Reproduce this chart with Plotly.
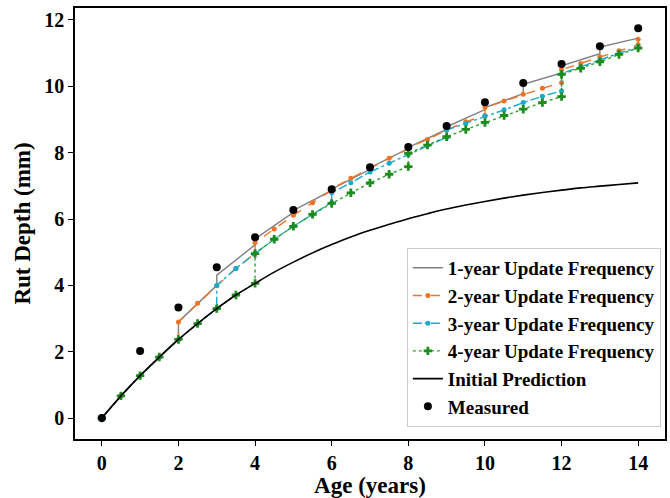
import plotly.graph_objects as go

# ---------------- data ----------------
initial_age = [0, 0.5, 1, 1.5, 2, 2.5, 3, 3.5, 4, 4.5, 5, 5.5, 6, 6.5, 7, 7.5,
               8, 8.5, 9, 9.5, 10, 10.5, 11, 11.5, 12, 12.5, 13, 13.5, 14]
initial_rut = [0, 0.67, 1.28, 1.84, 2.37, 2.85, 3.30, 3.71, 4.06, 4.40, 4.70, 4.98,
               5.23, 5.46, 5.66, 5.84, 6.01, 6.16, 6.30, 6.42, 6.53, 6.63, 6.72,
               6.80, 6.87, 6.94, 6.99, 7.04, 7.09]

measured_age = [0, 1, 2, 3, 4, 5, 6, 7, 8, 9, 10, 11, 12, 13, 14]
measured_rut = [0, 2.02, 3.33, 4.55, 5.45, 6.27, 6.90, 7.56, 8.17, 8.80, 9.52,
                10.10, 10.67, 11.21, 11.75]

upd1_age = [0, 0.5, 1, 1.5, 2, 2, 3, 3, 4, 4, 5, 5, 6, 6, 7, 7, 8, 8, 9, 9,
            10, 10, 11, 11, 12, 12, 13, 13, 14]
upd1_rut = [0, 0.67, 1.28, 1.84, 2.37, 2.90, 4.00, 4.31, 5.22, 5.40, 6.20, 6.26,
            6.86, 6.90, 7.50, 7.55, 8.12, 8.16, 8.70, 8.78, 9.30, 9.36, 9.78,
            10.06, 10.40, 10.62, 10.98, 11.18, 11.45]

upd2_age = [0, 0.5, 1, 1.5, 2, 2, 2.5, 3, 3.5, 4, 4, 4.5, 5, 5.5, 6, 6, 6.5, 7,
            7.5, 8, 8, 8.5, 9, 9.5, 10, 10, 10.5, 11, 11.5, 12, 12, 12.5, 13,
            13.5, 14, 14]
upd2_rut = [0, 0.67, 1.28, 1.84, 2.37, 2.90, 3.46, 3.99, 4.51, 4.97, 5.29, 5.70,
            6.11, 6.49, 6.87, 6.92, 7.23, 7.53, 7.83, 8.11, 8.15, 8.40, 8.68,
            8.93, 9.12, 9.36, 9.56, 9.76, 9.94, 10.11, 10.50, 10.69, 10.89,
            11.07, 11.25, 11.42]

upd3_age = [0, 0.5, 1, 1.5, 2, 2.5, 3, 3, 3.5, 4, 4.5, 5, 5.5, 6, 6, 6.5, 7,
            7.5, 8, 8.5, 9, 9, 9.5, 10, 10.5, 11, 11.5, 12, 12, 12.5, 13, 13.5, 14]
upd3_rut = [0, 0.67, 1.28, 1.84, 2.37, 2.85, 3.30, 4.00, 4.51, 4.96, 5.39, 5.78,
            6.14, 6.50, 6.79, 7.09, 7.42, 7.68, 7.95, 8.22, 8.46, 8.68, 8.88,
            9.10, 9.29, 9.51, 9.70, 9.86, 10.38, 10.59, 10.80, 11.00, 11.18]

upd4_age = [0, 0.5, 1, 1.5, 2, 2.5, 3, 3.5, 4, 4, 4.5, 5, 5.5, 6, 6.5, 7, 7.5,
            8, 8, 8.5, 9, 9.5, 10, 10.5, 11, 11.5, 12, 12, 12.5, 13, 13.5, 14]
upd4_rut = [0, 0.67, 1.28, 1.84, 2.37, 2.85, 3.30, 3.71, 4.06, 4.96, 5.39, 5.78,
            6.14, 6.47, 6.79, 7.09, 7.35, 7.58, 7.98, 8.23, 8.48, 8.70, 8.91,
            9.12, 9.31, 9.51, 9.69, 10.36, 10.54, 10.74, 10.96, 11.15]

x_ticks = [0, 2, 4, 6, 8, 10, 12, 14]
y_ticks = [0, 2, 4, 6, 8, 10, 12]

# ---------------- figure ----------------
FONT = "Liberation Serif"
fig = go.Figure()

fig.add_trace(go.Scatter(x=upd1_age, y=upd1_rut, mode="lines",
                         name="1-year Update Frequency", legendgroup="g1",
                         line=dict(color="#808080", width=1.4)))
fig.add_trace(go.Scatter(x=upd2_age, y=upd2_rut, mode="lines+markers",
                         name="2-year Update Frequency", legendgroup="g2",
                         line=dict(color="#f07222", width=1.4, dash="dash"),
                         marker=dict(color="#f07222", size=5, symbol="circle")))
fig.add_trace(go.Scatter(x=upd3_age, y=upd3_rut, mode="lines+markers",
                         name="3-year Update Frequency", legendgroup="g3",
                         line=dict(color="#17aacf", width=1.4, dash="dashdot"),
                         marker=dict(color="#17aacf", size=5, symbol="circle")))
fig.add_trace(go.Scatter(x=upd4_age, y=upd4_rut, mode="lines+markers",
                         name="4-year Update Frequency", legendgroup="g4",
                         line=dict(color="#2ca02c", width=1.4, dash="dot"),
                         marker=dict(color="#1c8c1c", size=7, symbol="cross")))
fig.add_trace(go.Scatter(x=initial_age, y=initial_rut, mode="lines",
                         name="Initial Prediction", legendgroup="g5",
                         line=dict(color="black", width=1.6, shape="spline")))
fig.add_trace(go.Scatter(x=measured_age, y=measured_rut, mode="markers",
                         name="Measured", legendgroup="g6",
                         marker=dict(color="black", size=8, symbol="circle")))

axis_common = dict(showline=True, linecolor="black", linewidth=1.5, mirror=True,
                   ticks="outside", ticklen=5, tickwidth=1.3, tickcolor="black",
                   showgrid=False, zeroline=False,
                   tickfont=dict(family=FONT, size=20, color="black", weight="bold"))

fig.update_xaxes(range=[-0.7, 14.7], tickvals=x_ticks,
                 title=dict(text="Age (years)", standoff=2,
                            font=dict(family=FONT, size=23, color="black", weight="bold")),
                 **axis_common)
fig.update_yaxes(range=[-0.63, 12.36], tickvals=y_ticks,
                 title=dict(text="Rut Depth (mm)", standoff=7,
                            font=dict(family=FONT, size=23, color="black", weight="bold")),
                 **axis_common)

fig.update_layout(
    width=670, height=498,
    margin=dict(l=75, r=3, t=8, b=59),
    paper_bgcolor="white", plot_bgcolor="white",
    legend=dict(x=0.993, y=0.028, xanchor="right", yanchor="bottom",
                bgcolor="rgba(255,255,255,0.85)", bordercolor="#cccccc",
                borderwidth=1, traceorder="grouped", tracegroupgap=0,
                itemwidth=30,
                font=dict(family=FONT, size=19, color="black", weight="bold")),
)

fig.write_html("out.html")
